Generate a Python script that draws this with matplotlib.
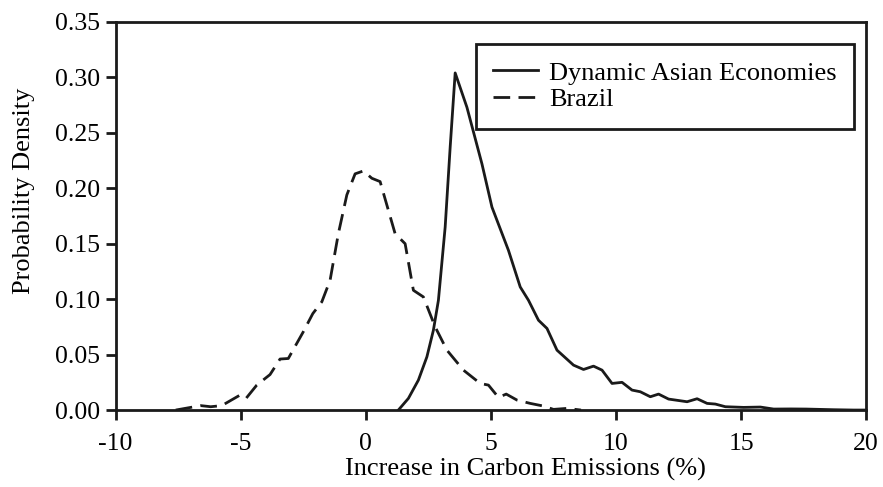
import numpy as np
import matplotlib.pyplot as plt

plt.rcParams['font.family'] = ['Liberation Serif', 'DejaVu Serif']
plt.rcParams['axes.unicode_minus'] = False

# Dynamic Asian Economies density (solid)
dae_x = [1.3, 1.7, 2.1, 2.44, 2.7, 2.9, 3.17, 3.37, 3.57, 4.04, 4.64, 5.04, 5.7,
         6.17, 6.5, 6.9, 7.24, 7.64, 8.3, 8.7, 9.1, 9.44, 9.84, 10.24, 10.64,
         10.97, 11.37, 11.7, 12.1, 12.84, 13.24, 13.64, 13.97, 14.37, 15.1,
         15.77, 16.3, 17.0, 17.6, 18.7, 19.5, 20.0]
dae_y = [0.0, 0.0105, 0.027, 0.048, 0.072, 0.099, 0.165, 0.237, 0.304, 0.273,
         0.222, 0.183, 0.144, 0.111, 0.099, 0.081, 0.0736, 0.054, 0.0405,
         0.0366, 0.0396, 0.036, 0.024, 0.025, 0.018, 0.0165, 0.012, 0.0144,
         0.0099, 0.0075, 0.0102, 0.006, 0.0054, 0.003, 0.0024, 0.0027, 0.0009,
         0.001, 0.0009, 0.0003, 0.0, 0.0]

# Brazil density (dashed)
bra_x = [-7.6, -6.6, -6.2, -5.76, -5.03, -4.79, -4.36, -3.83, -3.43, -3.1, -2.5,
         -2.12, -1.76, -1.43, -1.1, -0.76, -0.43, -0.1, 0.24, 0.57, 1.17, 1.57,
         1.9, 2.3, 2.77, 3.24, 3.9, 4.57, 4.9, 5.3, 5.61, 6.04, 6.57, 7.1, 7.5,
         8.04, 8.6]
bra_y = [0.0, 0.004, 0.003, 0.004, 0.0135, 0.0105, 0.0225, 0.032, 0.046, 0.0465,
         0.0706, 0.087, 0.0976, 0.117, 0.159, 0.194, 0.213, 0.2156, 0.209,
         0.206, 0.159, 0.150, 0.108, 0.102, 0.075, 0.054, 0.036, 0.024, 0.0225,
         0.0114, 0.0144, 0.009, 0.006, 0.0036, 0.0006, 0.0015, 0.0]

fs = 18.5
ink = '#1a1a1a'

fig = plt.figure(figsize=(8.83, 4.87), dpi=100)
ax = fig.add_axes([0.131, 0.158, 0.850, 0.797])

ax.plot(dae_x, dae_y, color=ink, lw=2.0, label='Dynamic Asian Economies')
ax.plot(bra_x, bra_y, color=ink, lw=2.0, dashes=(6, 3), label='Brazil')

ax.set_xlim(-10, 20)
ax.set_ylim(0, 0.35)
ax.set_xticks(np.arange(-10, 21, 5))
ax.set_yticks(np.arange(0, 0.351, 0.05))
ax.yaxis.set_major_formatter(plt.FormatStrFormatter('%.2f'))
ax.tick_params(direction='out', width=2, labelsize=fs, color=ink)
ax.tick_params(axis='x', length=7, pad=9.5)
ax.tick_params(axis='y', length=7, pad=4)
for s in ax.spines.values():
    s.set_linewidth(2)
    s.set_color(ink)

ax.set_xlabel('Increase in Carbon Emissions (%)', fontsize=19)
ax.xaxis.set_label_coords(0.546, -0.123)
ax.set_ylabel('Probability Density', fontsize=19)
ax.yaxis.set_label_coords(-0.108, 0.565)

leg = ax.legend(loc='upper right', bbox_to_anchor=(0.9835, 0.944), fontsize=19,
                frameon=True, fancybox=False, handlelength=1.7, handletextpad=0.4,
                borderpad=0.66, labelspacing=0.12, borderaxespad=0)
leg.get_frame().set_edgecolor(ink)
leg.get_frame().set_linewidth(2)
leg.get_frame().set_alpha(1)

fig.savefig('out.png', dpi=100)
